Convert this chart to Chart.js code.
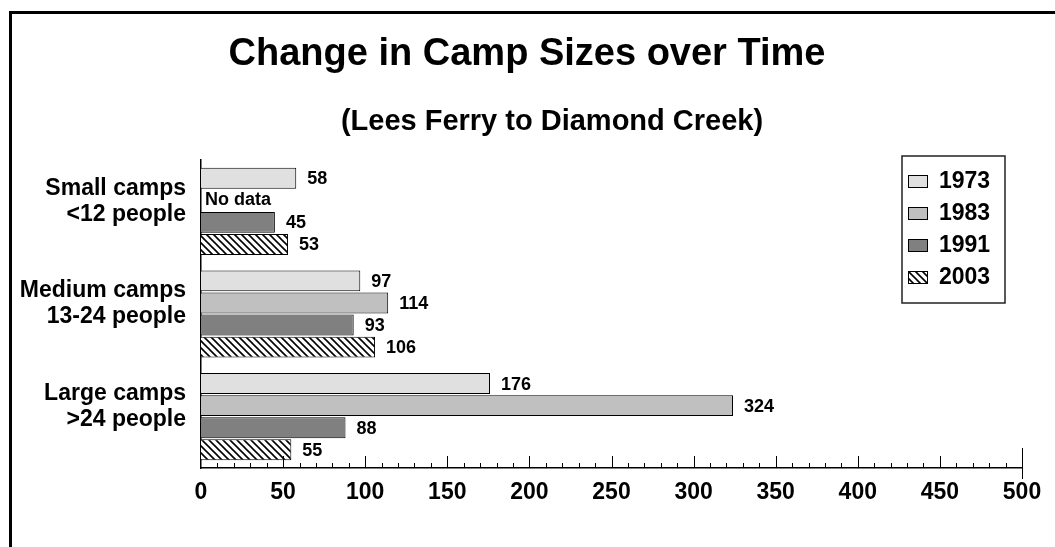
<!DOCTYPE html>
<html>
<head>
<meta charset="utf-8">
<script src="https://cdn.jsdelivr.net/npm/chart.js@4/dist/chart.umd.min.js"></script>
<style>
  body { margin: 0; background: #fff; }
  canvas { display: block; }
</style>
</head>
<body>
<canvas id="camp-chart" width="1055" height="547"></canvas>
<script>
// values
const campSizes = [['Small camps', '<12 people'], ['Medium camps', '13-24 people'], ['Large camps', '>24 people']];
const years = ['1973', '1983', '1991', '2003'];
const camps1973 = [58, 97, 176];
const camps1983 = [null, 114, 324];   // no data for small camps
const camps1991 = [45, 93, 88];
const camps2003 = [53, 106, 55];
const xMin = 0, xMax = 500, xStep = 50, xMinorStep = 10;

const FONT = "'Liberation Sans', Arial, sans-serif";
Chart.defaults.font.family = FONT;
Chart.defaults.color = '#000';

// black "\" hatch on white for 2003
function makeHatch() {
    const size = 7;
    const c = document.createElement('canvas');
    c.width = size; c.height = size;
    const g = c.getContext('2d');
    g.fillStyle = '#fff';
    g.fillRect(0, 0, size, size);
    g.strokeStyle = '#000';
    g.lineWidth = 1.6;
    g.beginPath();
    g.moveTo(-1, -1); g.lineTo(size + 1, size + 1);
    g.moveTo(-1, size - 1); g.lineTo(1, size + 1);
    g.moveTo(size - 1, -1); g.lineTo(size + 1, 1);
    g.stroke();
    return g.createPattern(c, 'repeat');
}
const hatch = makeHatch();

const fills = ['#e0e0e0', '#c0c0c0', '#808080', hatch];
const series = [camps1973, camps1983, camps1991, camps2003];

const decorations = {
    id: 'decorations',
    beforeDraw(chart) {
        const ctx = chart.ctx;
        ctx.save();
        ctx.fillStyle = '#fff';
        ctx.fillRect(0, 0, chart.width, chart.height);
        ctx.restore();
    },
    afterDatasetsDraw(chart) {
        const ctx = chart.ctx;
        const xs = chart.scales.x;
        const bottom = chart.chartArea.bottom;
        ctx.save();

        // inward tick marks on the value axis
        ctx.strokeStyle = '#000';
        ctx.lineWidth = 1;
        for (let v = xMin + xMinorStep; v <= xMax; v += xMinorStep) {
            const px = Math.round(xs.getPixelForValue(v)) + 0.5;
            ctx.beginPath();
            if (v === xMax) {
                ctx.moveTo(px, bottom - 20);
                ctx.lineTo(px, bottom + 11);
            } else {
                ctx.moveTo(px, bottom);
                ctx.lineTo(px, bottom - (v % xStep === 0 ? 12 : 5));
            }
            ctx.stroke();
        }

        // value labels
        ctx.font = 'bold 18px ' + FONT;
        ctx.fillStyle = '#000';
        ctx.textAlign = 'left';
        ctx.textBaseline = 'middle';
        chart.data.datasets.forEach((ds, di) => {
            const meta = chart.getDatasetMeta(di);
            meta.data.forEach((bar, i) => {
                const v = ds.data[i];
                if (v === null) {
                    ctx.fillText('No data', xs.getPixelForValue(0) + 4, bar.y);
                } else {
                    ctx.fillText(String(v), bar.x + 11, bar.y + 1);
                }
            });
        });
        ctx.restore();
    },
    afterDraw(chart) {
        const ctx = chart.ctx;
        ctx.save();

        // outer frame (only top and left edges show)
        ctx.strokeStyle = '#000';
        ctx.lineWidth = 3;
        ctx.beginPath();
        ctx.moveTo(10.5, chart.height);
        ctx.lineTo(10.5, 12.5);
        ctx.lineTo(chart.width, 12.5);
        ctx.stroke();

        // titles
        ctx.fillStyle = '#000';
        ctx.textAlign = 'center';
        ctx.textBaseline = 'alphabetic';
        ctx.font = 'bold 38px ' + FONT;
        ctx.fillText('Change in Camp Sizes over Time', 527, 65);
        ctx.font = 'bold 29px ' + FONT;
        ctx.fillText('(Lees Ferry to Diamond Creek)', 552, 130);

        // legend box
        const lx = 902, ly = 156, lw = 103, lh = 147;
        ctx.fillStyle = '#fff';
        ctx.fillRect(lx, ly, lw, lh);
        ctx.strokeStyle = '#222';
        ctx.lineWidth = 1.5;
        ctx.strokeRect(lx, ly, lw, lh);
        ctx.font = 'bold 23px ' + FONT;
        ctx.textAlign = 'left';
        ctx.textBaseline = 'middle';
        chart.data.datasets.forEach((ds, i) => {
            const cy = 181 + i * 32;
            ctx.fillStyle = ds.backgroundColor;
            ctx.fillRect(lx + 6, cy - 6, 20, 13);
            ctx.lineWidth = 1;
            ctx.strokeStyle = '#000';
            ctx.strokeRect(lx + 6.5, cy - 5.5, 19, 12);
            ctx.fillStyle = '#000';
            ctx.fillText(ds.label, lx + 37, cy + 1);
        });
        ctx.restore();
    }
};

new Chart(document.getElementById('camp-chart'), {
    type: 'bar',
    data: {
        labels: campSizes,
        datasets: years.map((yr, i) => ({
            label: yr,
            data: series[i],
            backgroundColor: fills[i],
            borderColor: '#000',
            borderWidth: 1,
            categoryPercentage: 0.86,
            barPercentage: 0.95
        }))
    },
    options: {
        indexAxis: 'y',
        responsive: false,
        animation: false,
        layout: { padding: { top: 160, right: 33, left: 0, bottom: 0 } },
        plugins: {
            legend: { display: false },
            title: { display: false },
            tooltip: { enabled: false }
        },
        scales: {
            x: {
                min: xMin,
                max: xMax,
                ticks: {
                    stepSize: xStep,
                    padding: 11,
                    font: { size: 23, weight: 'bold' },
                    color: '#000'
                },
                grid: { display: false, drawTicks: false },
                border: { display: true, color: '#000', width: 1.5 },
                afterFit(scale) { scale.height = 79; }
            },
            y: {
                ticks: {
                    padding: 15,
                    labelOffset: -10,
                    font: { size: 23, weight: 'bold', lineHeight: 1.13 },
                    color: '#000'
                },
                grid: { display: false, drawTicks: false },
                border: { display: true, color: '#000', width: 1.5 },
                afterFit(scale) { scale.width = 201; }
            }
        }
    },
    plugins: [decorations]
});
</script>
</body>
</html>
